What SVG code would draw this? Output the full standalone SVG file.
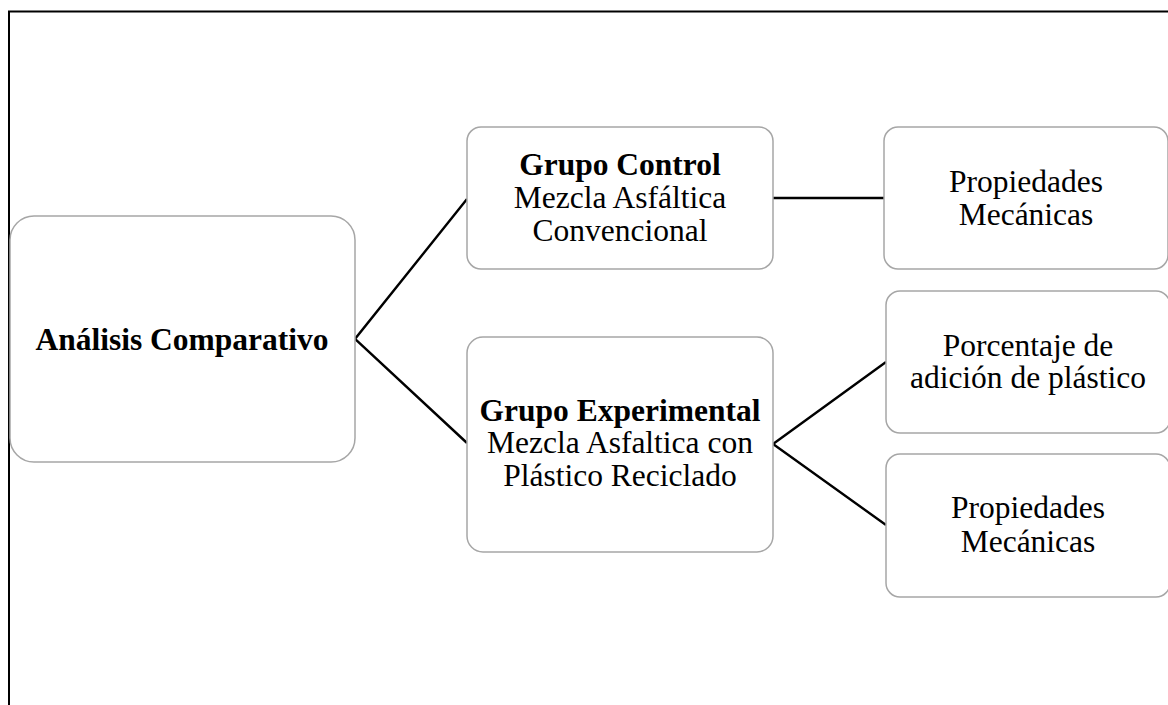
<svg xmlns="http://www.w3.org/2000/svg" width="1168" height="705" viewBox="0 0 1168 705">
<style>
.box{fill:#ffffff;stroke:#a6a6a6;stroke-width:1.5}
.t{font-family:"Liberation Serif","Times New Roman",serif;font-size:31.5px;fill:#000;text-anchor:middle}
.b{font-weight:bold}
.c{stroke:#000;stroke-width:2.4;fill:none}
</style>
<rect width="1168" height="705" fill="#ffffff"/>
<path d="M9,705 V11.5 H1168" fill="none" stroke="#000" stroke-width="2"/>
<g id="connectors">
<path class="c" d="M467,199 L355,339 L467,443"/>
<path class="c" d="M773,198 L884,198"/>
<path class="c" d="M886,362 L773,444 L886,525"/>
</g>
<g id="analisis">
<rect class="box" x="10" y="216" width="345" height="246" rx="24"/>
<text class="t b" x="182" y="350">Análisis Comparativo</text>
</g>
<g id="control">
<rect class="box" x="467" y="127" width="306" height="142" rx="14"/>
<text class="t" x="620" y="175"><tspan class="b">Grupo Control</tspan><tspan x="620" y="208">Mezcla Asfáltica</tspan><tspan x="620" y="241">Convencional</tspan></text>
</g>
<g id="experimental">
<rect class="box" x="467" y="337" width="306" height="215" rx="16"/>
<text class="t" x="620" y="421"><tspan class="b">Grupo Experimental</tspan><tspan x="620" y="453">Mezcla Asfaltica con</tspan><tspan x="620" y="486">Plástico Reciclado</tspan></text>
</g>
<g id="prop1">
<rect class="box" x="884" y="127" width="284" height="142" rx="14"/>
<text class="t" x="1026" y="192">Propiedades<tspan x="1026" y="225">Mecánicas</tspan></text>
</g>
<g id="porcentaje">
<rect class="box" x="886" y="291" width="284" height="142" rx="14"/>
<text class="t" x="1028" y="356">Porcentaje de<tspan x="1028" y="388">adición de plástico</tspan></text>
</g>
<g id="prop2">
<rect class="box" x="886" y="454" width="284" height="143" rx="14"/>
<text class="t" x="1028" y="518">Propiedades<tspan x="1028" y="552">Mecánicas</tspan></text>
</g>
</svg>
